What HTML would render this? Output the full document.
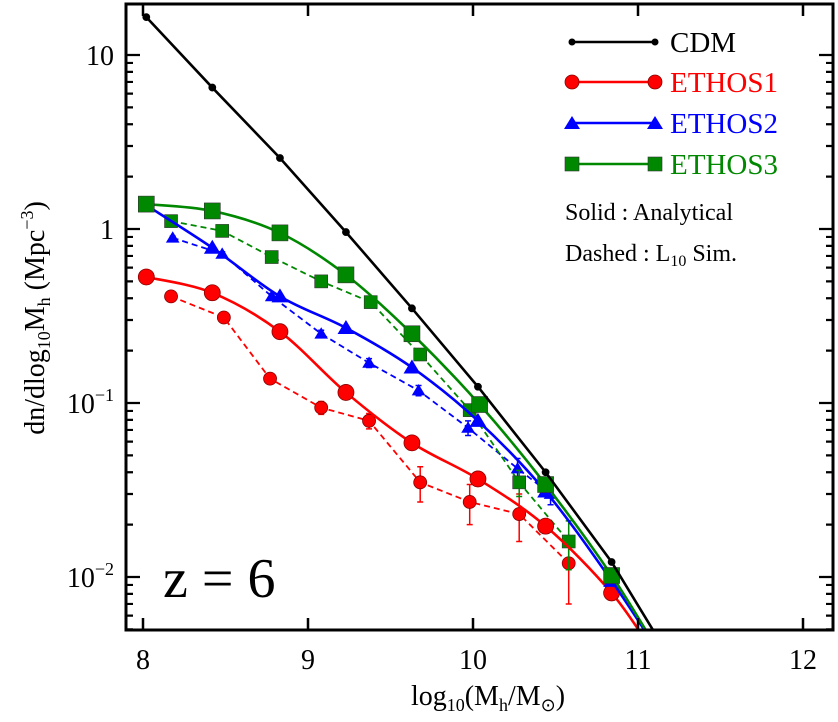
<!DOCTYPE html>
<html><head><meta charset="utf-8"><style>
html,body{margin:0;padding:0;background:#fff;}
svg{display:block;font-family:"Liberation Serif",serif;}
</style></head><body>
<svg id="chart" width="838" height="722">
<defs><clipPath id="clip"><rect x="126" y="4" width="707" height="626"/></clipPath></defs>
<g id="plot" clip-path="url(#clip)"></g>
<g id="axes"></g>
<text x="163" y="597" font-size="56">z = 6</text>
<g font-size="29">
 <g><line x1="572" y1="42" x2="655" y2="42" stroke="#000" stroke-width="2.5"/><circle cx="572" cy="42" r="3.5"/><circle cx="655" cy="42" r="3.5"/><text x="670" y="52" fill="#000">CDM</text></g>
 <g><line x1="572" y1="82" x2="655" y2="82" stroke="#f00" stroke-width="2.5"/><circle cx="572" cy="82" r="7" fill="#f00" stroke="#800" stroke-width="0.8"/><circle cx="655" cy="82" r="7" fill="#f00" stroke="#800" stroke-width="0.8"/><text x="670" y="92" fill="#f00">ETHOS1</text></g>
 <g><line x1="572" y1="123" x2="655" y2="123" stroke="#00f" stroke-width="2.5"/><polygon points="572,116 564,129 580,129" fill="#00f"/><polygon points="655,116 647,129 663,129" fill="#00f"/><text x="670" y="133" fill="#00f">ETHOS2</text></g>
 <g><line x1="572" y1="164" x2="655" y2="164" stroke="#080" stroke-width="2.5"/><rect x="565" y="157" width="14" height="14" fill="#080" stroke="#333" stroke-width="0.6"/><rect x="648" y="157" width="14" height="14" fill="#080" stroke="#333" stroke-width="0.6"/><text x="670" y="174" fill="#080">ETHOS3</text></g>
 <text x="565" y="220" font-size="24">Solid : Analytical</text>
 <text x="565" y="261" font-size="24">Dashed : L<tspan font-size="16" dy="5">10</tspan><tspan dy="-5"> Sim.</tspan></text>
</g>
<text x="488" y="705" font-size="28" text-anchor="middle">log<tspan font-size="18" dy="6">10</tspan><tspan dy="-6">(M</tspan><tspan font-size="18" dy="6">h</tspan><tspan dy="-6">/M</tspan><tspan font-size="18" dy="6">⊙</tspan><tspan dy="-6">)</tspan></text>
<text transform="translate(44,318) rotate(-90)" font-size="28" text-anchor="middle">dn/dlog<tspan font-size="18" dy="6">10</tspan><tspan dy="-6">M</tspan><tspan font-size="18" dy="6">h</tspan><tspan dy="-6"> (Mpc</tspan><tspan font-size="18" dy="-11">−3</tspan><tspan dy="11">)</tspan></text>
</svg>
<script>
const xTicks=[8,9,10,11,12];
const yTicks=[0.01,0.1,1,10];
const cdmX=[8.02,8.42,8.83,9.23,9.63,10.03,10.44,10.84,11.25];
const cdmY=[16.5,6.5,2.56,0.96,0.35,0.124,0.040,0.0122,0.0028];
const e1X=[8.02,8.42,8.83,9.23,9.63,10.03,10.44,10.84,11.1];
const e1Y=[0.53,0.43,0.257,0.115,0.059,0.0366,0.0196,0.0081,0.0036];
const e2X=[8.02,8.42,8.83,9.23,9.63,10.03,10.44,10.84,11.15];
const e2Y=[1.37,0.78,0.41,0.27,0.16,0.079,0.031,0.0095,0.0034];
const e3X=[8.02,8.42,8.83,9.23,9.63,10.04,10.44,10.84,11.15];
const e3Y=[1.39,1.27,0.95,0.545,0.25,0.098,0.034,0.0102,0.0034];
const s1X=[8.17,8.49,8.77,9.08,9.37,9.68,9.98,10.28,10.58];
const s1Y=[0.41,0.31,0.138,0.094,0.079,0.035,0.027,0.023,0.012];
const s1Err=[0.01,0.01,0.006,0.008,0.008,0.008,0.007,0.007,0.005];
const s2X=[8.18,8.48,8.78,9.08,9.37,9.67,9.97,10.27,10.47];
const s2Y=[0.89,0.72,0.41,0.25,0.17,0.118,0.072,0.042,0.03];
const s2Err=[0.02,0.02,0.015,0.012,0.01,0.008,0.007,0.006,0.004];
const s3X=[8.17,8.48,8.78,9.08,9.38,9.68,9.98,10.28,10.58];
const s3Y=[1.11,0.975,0.69,0.50,0.38,0.19,0.091,0.035,0.016];
const s3Err=[0.02,0.02,0.015,0.012,0.01,0.008,0.007,0.006,0.005];

const X0=126,X1=833,Y0=4,Y1=630;
const xs=v=>143+165*(v-8);
const ys=v=>55+174*(1-Math.log10(v));
const NS="http://www.w3.org/2000/svg";
const plot=document.getElementById('plot'),axes=document.getElementById('axes');
function mk(tag,attrs,parent){const e=document.createElementNS(NS,tag);for(const k in attrs)e.setAttribute(k,attrs[k]);parent.appendChild(e);return e;}
function curve(X,Y){const p=X.map((x,i)=>[xs(x),ys(Y[i])]);let d=`M${p[0][0]},${p[0][1]}`;
 for(let i=0;i<p.length-1;i++){const a=p[Math.max(0,i-1)],b=p[i],c=p[i+1],e=p[Math.min(p.length-1,i+2)];
 d+=` C${b[0]+(c[0]-a[0])/6},${b[1]+(c[1]-a[1])/6} ${c[0]-(e[0]-b[0])/6},${c[1]-(e[1]-b[1])/6} ${c[0]},${c[1]}`;}return d;}
function poly(X,Y){return X.map((x,i)=>(i?'L':'M')+xs(x)+','+ys(Y[i])).join(' ');}
function marker(type,x,y,size,color,name){let e;
 if(type==='c'){e=mk('circle',{cx:x,cy:y,r:size,fill:color,stroke:color==='#000'?'#000':'#800','stroke-width':0.8},plot);}
 else if(type==='t'){e=mk('polygon',{points:`${x},${y-size} ${x-size*1.05},${y+size*0.75} ${x+size*1.05},${y+size*0.75}`,fill:color},plot);}
 else {e=mk('rect',{x:x-size,y:y-size,width:2*size,height:2*size,fill:color,stroke:'#333','stroke-width':0.6},plot);}
 
 }
function errbars(X,Y,E,color,name){X.forEach((x,i)=>{const l=mk('path',{d:`M${xs(x)},${ys(Y[i]+E[i])}V${ys(Math.max(Y[i]-E[i],1e-4))}M${xs(x)-3},${ys(Y[i]+E[i])}h6M${xs(x)-3},${ys(Math.max(Y[i]-E[i],1e-4))}h6`,stroke:color,'stroke-width':1.5,fill:'none'},plot);
 
 });}
function sim(X,Y,E,color,type,size,name){const p=mk('path',{d:poly(X,Y),stroke:color,'stroke-width':1.8,'stroke-dasharray':'6,4',fill:'none'},plot);
 
 
 errbars(X,Y,E,color,name);
 X.forEach((x,i)=>marker(type,xs(x),ys(Y[i]),size,color,name+'-point'));}
function ana(X,Y,color,type,size,name){const p=mk('path',{d:curve(X,Y),stroke:color,'stroke-width':2.6,fill:'none'},plot);
 
 
 X.forEach((x,i)=>{if(x<=10.9)marker(type,xs(x),ys(Y[i]),size,color,name+'-point');});}
sim(s1X,s1Y,s1Err,'#f00','c',6.5,'ethos1-sim');
sim(s2X,s2Y,s2Err,'#00f','t',6.5,'ethos2-sim');
sim(s3X,s3Y,s3Err,'#080','s',6.5,'ethos3-sim');
ana(e1X,e1Y,'#f00','c',8,'ethos1-analytical');
ana(e2X,e2Y,'#00f','t',8,'ethos2-analytical');
ana(e3X,e3Y,'#080','s',8,'ethos3-analytical');
(function(){const p=mk('path',{d:poly(cdmX,cdmY),stroke:'#000','stroke-width':2.6,fill:'none'},plot);
 
 
 cdmX.forEach((x,i)=>marker('c',xs(x),ys(cdmY[i]),3.5,'#000','cdm-point'));})();
const fr=mk('rect',{x:X0,y:Y0,width:X1-X0,height:Y1-Y0,fill:'none',stroke:'#000','stroke-width':3},axes);


xTicks.forEach(v=>{const x=xs(v);
 mk('path',{d:`M${x},${Y1}v-12M${x},${Y0}v12`,stroke:'#000','stroke-width':2.5},axes);
 const t=mk('text',{x:x,y:Y1+39,'font-size':28,'text-anchor':'middle'},axes);t.textContent=v;
 
 });
for(let d=-3;d<=1;d++){for(let m=1;m<10;m++){const v=m*Math.pow(10,d);const y=ys(v);if(y<Y0||y>Y1)continue;const L=m===1?14:7;
 mk('path',{d:`M${X0},${y}h${L}M${X1},${y}h${-L}`,stroke:'#000','stroke-width':2.2},axes);}}
yTicks.forEach(v=>{const y=ys(v);const t=mk('text',{x:X0-12,y:y+10,'font-size':28,'text-anchor':'end'},axes);
 const e=Math.round(Math.log10(v));
 if(e===0)t.textContent='1';else if(e===1)t.textContent='10';else{t.textContent='10';const s=mk('tspan',{'font-size':18,dy:-12},t);s.textContent='−'+(-e);}
 
 });
</script>
</body></html>
